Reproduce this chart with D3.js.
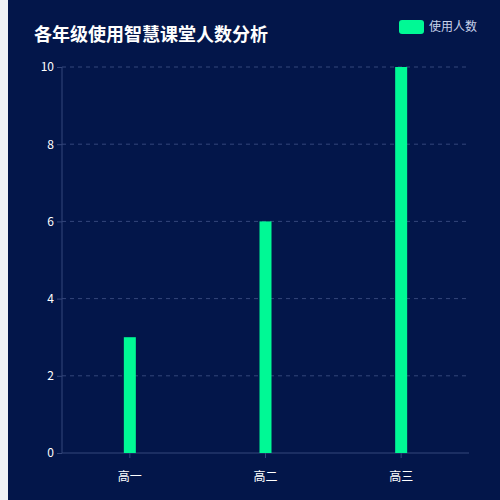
<!DOCTYPE html>
<html>
<head>
    <meta charset="utf-8">
    <script src="https://d3js.org/d3.v7.min.js"></script>
    <style>
        body { margin: 0; background: #f0f2f5; }
        svg { display: block; }
        text { font-family: "Noto Sans CJK SC", "Noto Sans", sans-serif; }
    </style>
</head>
<body>
    <svg width="500" height="500"></svg>
    <script>
        var grades = ["高一", "高二", "高三"];
        var users = [3, 6, 10];
        var yTicks = [0, 2, 4, 6, 8, 10];
        var seriesName = "使用人数";
        var title = "各年级使用智慧课堂人数分析";

        var svg = d3.select("svg");
        var plotLeft = 62, plotRight = 469, plotTop = 67, plotBottom = 453;

        // panel background, light strip on the left
        svg.append("rect").attr("x", 8).attr("y", 0).attr("width", 492).attr("height", 500).attr("fill", "#03164a");

        var x = d3.scaleBand().domain(grades).range([plotLeft, plotRight]);
        var y = d3.scaleLinear().domain([0, 10]).range([plotBottom, plotTop]);

        // dashed grid
        svg.selectAll(".grid").data(yTicks.filter(function(d) { return d > 0; }))
            .enter().append("line")
            .attr("x1", plotLeft).attr("x2", plotRight)
            .attr("y1", function(d) { return y(d); })
            .attr("y2", function(d) { return y(d); })
            .attr("stroke", "#34467a").attr("stroke-dasharray", "4,4");

        // y axis
        var yAxis = svg.append("g").attr("transform", "translate(" + plotLeft + ",0)")
            .call(d3.axisLeft(y).tickValues(yTicks).tickSize(5).tickPadding(3));
        yAxis.select(".domain").attr("stroke", "#34467a").attr("d", "M0," + plotBottom + "V" + plotTop);
        yAxis.selectAll(".tick line").attr("stroke", "#34467a");
        yAxis.selectAll("text").attr("fill", "#ffffff").attr("font-size", 12)
            .attr("font-family", "'Open Sans', sans-serif");

        // x axis
        var xAxis = svg.append("g").attr("transform", "translate(0," + plotBottom + ")")
            .call(d3.axisBottom(x).tickSize(5).tickPadding(14));
        xAxis.select(".domain").attr("stroke", "#34467a").attr("d", "M" + plotLeft + ",0H" + plotRight);
        xAxis.selectAll(".tick line").attr("stroke", "#34467a");
        xAxis.selectAll("text").attr("fill", "#ffffff").attr("font-size", 12);

        // bars
        var barW = 12;
        svg.selectAll(".bar").data(users).enter().append("rect")
            .attr("x", function(d, i) { return x(grades[i]) + x.bandwidth() / 2 - barW / 2; })
            .attr("y", function(d) { return y(d); })
            .attr("width", barW)
            .attr("height", function(d) { return plotBottom - y(d); })
            .attr("fill", "#00f995");

        // title
        svg.append("text").attr("x", 34).attr("y", 41)
            .attr("fill", "#ffffff").attr("font-size", 18).attr("font-weight", "bold")
            .text(title);

        // legend
        svg.append("rect").attr("x", 399).attr("y", 20).attr("width", 25).attr("height", 14)
            .attr("rx", 3).attr("fill", "#00f995");
        svg.append("text").attr("x", 429).attr("y", 31)
            .attr("fill", "#c8d2ea").attr("font-size", 12)
            .text(seriesName);
    </script>
</body>
</html>
